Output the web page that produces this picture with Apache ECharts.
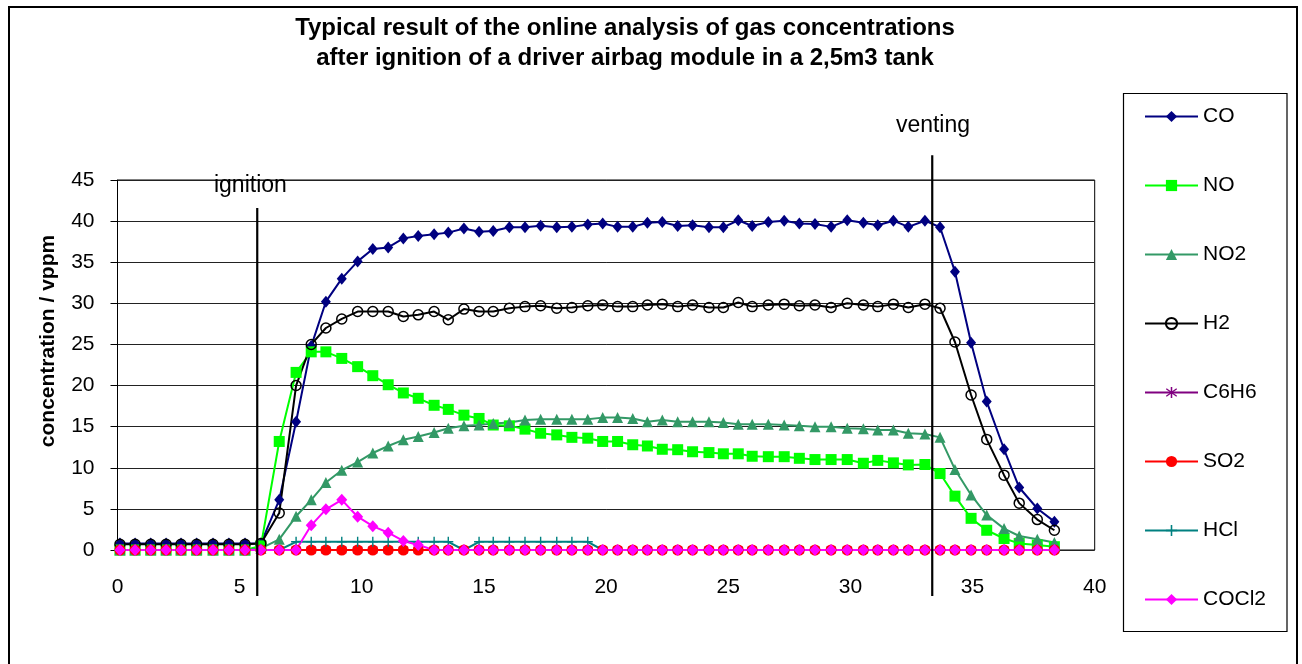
<!DOCTYPE html>
<html>
<head>
<meta charset="utf-8">
<script src="https://cdn.jsdelivr.net/npm/echarts@6/dist/echarts.min.js"></script>
<style>
html,body{margin:0;padding:0;background:#fff;}
#chart{width:1302px;height:664px;}
</style>
</head>
<body>
<div id="chart"></div>
<script>
// ---- data ----
const titleLines = ['Typical result of the online analysis of gas concentrations',
                    'after ignition of a driver airbag module in a 2,5m3 tank'];
const yAxisTitle = 'concentration / vppm';
const seriesNames = ['CO', 'NO', 'NO2', 'H2', 'C6H6', 'SO2', 'HCl', 'COCl2'];
const xTicks = [0, 5, 10, 15, 20, 25, 30, 35, 40];
const yTicks = [0, 5, 10, 15, 20, 25, 30, 35, 40, 45];
const eventNames = ['ignition', 'venting'];
const eventTimes = [5.72, 33.35];

const times = [0.10, 0.72, 1.36, 1.99, 2.60, 3.24, 3.91, 4.56, 5.22, 5.87,
  6.62, 7.31, 7.93, 8.53, 9.18, 9.83, 10.45, 11.08, 11.70, 12.31,
  12.96, 13.54, 14.18, 14.80, 15.38, 16.04, 16.68, 17.32, 17.98, 18.60,
  19.25, 19.86, 20.47, 21.09, 21.69, 22.30, 22.93, 23.54, 24.21, 24.80,
  25.41, 25.98, 26.64, 27.29, 27.91, 28.55, 29.21, 29.87, 30.53, 31.12,
  31.76, 32.37, 33.05, 33.67, 34.28, 34.94, 35.58, 36.29, 36.91, 37.65, 38.35];

const CO = [0.8, 0.8, 0.8, 0.8, 0.8, 0.8, 0.8, 0.8, 0.8, 0.8,
  6.1, 15.6, 24.8, 30.2, 33.0, 35.1, 36.6, 36.8, 37.9, 38.2,
  38.4, 38.6, 39.1, 38.7, 38.8, 39.25, 39.25, 39.45, 39.25, 39.3,
  39.6, 39.7, 39.3, 39.3, 39.8, 39.9, 39.4, 39.5, 39.25, 39.25,
  40.1, 39.4, 39.9, 40.05, 39.7, 39.65, 39.3, 40.1, 39.8, 39.5,
  40.05, 39.3, 40.05, 39.25, 33.85, 25.2, 18.05, 12.25, 7.6, 5.05, 3.45];

const NO = [0, 0, 0, 0, 0, 0, 0, 0, 0, 0.5,
  13.2, 21.6, 24.1, 24.1, 23.3, 22.3, 21.2, 20.1, 19.1, 18.45,
  17.6, 17.1, 16.4, 16.0, 15.2, 15.1, 14.7, 14.2, 14.0, 13.7,
  13.6, 13.2, 13.2, 12.8, 12.65, 12.25, 12.2, 11.95, 11.85, 11.7,
  11.7, 11.4, 11.35, 11.35, 11.15, 11.0, 11.0, 11.0, 10.55, 10.9,
  10.6, 10.35, 10.4, 9.3, 6.55, 3.85, 2.4, 1.4, 0.8, 0.6, 0.4];

const NO2 = [0, 0, 0, 0, 0, 0, 0, 0, 0, 0.2,
  1.3, 4.1, 6.1, 8.2, 9.7, 10.7, 11.8, 12.65, 13.4, 13.8,
  14.3, 14.8, 15.1, 15.2, 15.4, 15.5, 15.8, 15.9, 15.9, 15.9,
  15.9, 16.1, 16.1, 16.0, 15.6, 15.8, 15.6, 15.6, 15.6, 15.5,
  15.3, 15.3, 15.3, 15.2, 15.1, 15.0, 15.0, 14.8, 14.75, 14.6,
  14.6, 14.2, 14.1, 13.7, 9.8, 6.7, 4.25, 2.6, 1.7, 1.3, 0.9];

const H2 = [0.7, 0.7, 0.7, 0.7, 0.7, 0.7, 0.7, 0.7, 0.7, 0.8,
  4.5, 20.0, 25.0, 27.0, 28.1, 29.0, 29.0, 29.0, 28.4, 28.6,
  29.0, 28.0, 29.3, 29.0, 29.0, 29.4, 29.6, 29.7, 29.4, 29.5,
  29.7, 29.8, 29.6, 29.6, 29.8, 29.9, 29.6, 29.8, 29.5, 29.5,
  30.1, 29.6, 29.8, 29.9, 29.7, 29.8, 29.5, 30.0, 29.8, 29.6,
  29.9, 29.5, 29.9, 29.4, 25.3, 18.85, 13.45, 9.1, 5.7, 3.7, 2.4];

const C6H6 = [0, 0, 0, 0, 0, 0, 0, 0, 0, 0,
  0, 0, 0, 0, 0, 0, 0, 0, 0, 0,
  0, 0, 0, 0, 0, 0, 0, 0, 0, 0,
  0, 0, 0, 0, 0, 0, 0, 0, 0, 0,
  0, 0, 0, 0, 0, 0, 0, 0, 0, 0,
  0, 0, 0, 0, 0, 0, 0, 0, 0, 0, 0];

const SO2 = [0, 0, 0, 0, 0, 0, 0, 0, 0, 0,
  0, 0, 0, 0, 0, 0, 0, 0, 0, 0,
  0, 0, 0, 0, 0, 0, 0, 0, 0, 0,
  0, 0, 0, 0, 0, 0, 0, 0, 0, 0,
  0, 0, 0, 0, 0, 0, 0, 0, 0, 0,
  0, 0, 0, 0, 0, 0, 0, 0, 0, 0, 0];

const HCl = [0, 0, 0, 0, 0, 0, 0, 0, 0, 0,
  0, 1, 1, 1, 1, 1, 1, 1, 1, 1,
  1, 1, 0, 1, 1, 1, 1, 1, 1, 1,
  1, 0, 0, 0, 0, 0, 0, 0, 0, 0,
  0, 0, 0, 0, 0, 0, 0, 0, 0, 0,
  0, 0, 0, 0, 0, 0, 0, 0, 0, 0, 0];

const COCl2 = [0, 0, 0, 0, 0, 0, 0, 0, 0, 0,
  0, 0, 3.0, 4.95, 6.1, 4.05, 2.9, 2.1, 1.1, 0.6,
  0, 0, 0, 0, 0, 0, 0, 0, 0, 0,
  0, 0, 0, 0, 0, 0, 0, 0, 0, 0,
  0, 0, 0, 0, 0, 0, 0, 0, 0, 0,
  0, 0, 0, 0, 0, 0, 0, 0, 0, 0, 0];

// ---- styles ----
const FONT = "'Liberation Sans', Arial, sans-serif";
const asterisk = 'path://M4.4 0h1.2v10h-1.2z M0.6 2.2l0.6-1 8.2 6.6-0.6 1z M8.8 1.2l0.6 1-8.2 6.6-0.6-1z';
const plus = 'path://M4.3 0h1.4v10h-1.4z M0 4.3h10v1.4h-10z';
const styles = {
  CO:    {color: '#000080', symbol: 'diamond', size: [10, 12]},
  NO:    {color: '#00FF00', symbol: 'rect', size: 11},
  NO2:   {color: '#339966', symbol: 'triangle', size: 11},
  H2:    {color: '#000000', symbol: 'circle', size: 10, hollow: true},
  C6H6:  {color: '#800080', symbol: asterisk, size: 10},
  SO2:   {color: '#FF0000', symbol: 'circle', size: 11},
  HCl:   {color: '#008080', symbol: plus, size: 10},
  COCl2: {color: '#FF00FF', symbol: 'diamond', size: [11, 12]}
};
const values = {CO, NO, NO2, H2, C6H6, SO2, HCl, COCl2};

const series = seriesNames.map(name => {
  const st = styles[name];
  return {
    name: name,
    type: 'line',
    data: times.map((t, i) => [t, values[name][i]]),
    symbol: st.symbol,
    symbolSize: st.size,
    showAllSymbol: true,
    animation: false,
    lineStyle: {color: st.color, width: 2},
    itemStyle: st.hollow
      ? {color: 'rgba(0,0,0,0)', borderColor: st.color, borderWidth: 1.5}
      : {color: st.color, borderColor: st.color, borderWidth: 0},
    emphasis: {disabled: true}
  };
});

const chart = echarts.init(document.getElementById('chart'), null, {renderer: 'canvas'});

chart.setOption({
  backgroundColor: '#fff',
  animation: false,
  title: {
    text: titleLines.join('\n'),
    left: 620,
    textAlign: 'center',
    top: 8,
    textStyle: {fontFamily: FONT, fontSize: 24, fontWeight: 'bold', color: '#000', lineHeight: 30}
  },
  legend: {
    data: seriesNames,
    orient: 'vertical',
    left: 1144,
    top: 106,
    padding: 0,
    itemWidth: 53,
    itemHeight: 14,
    itemGap: 48,
    textStyle: {fontFamily: FONT, fontSize: 21, color: '#000'},
    selectedMode: false
  },
  grid: {
    left: 117.5, right: 207.3, top: 180, bottom: 114,
    show: true, borderColor: '#000', borderWidth: 1, backgroundColor: '#fff'
  },
  xAxis: {
    type: 'value', min: xTicks[0], max: xTicks[xTicks.length - 1], interval: 5,
    axisLine: {show: false},
    axisTick: {show: false},
    splitLine: {show: false},
    axisLabel: {fontFamily: FONT, fontSize: 21, color: '#000', margin: 27}
  },
  yAxis: {
    type: 'value', min: yTicks[0], max: yTicks[yTicks.length - 1], interval: 5,
    axisLine: {show: true, lineStyle: {color: '#000', width: 1}},
    axisTick: {show: true, inside: false, length: 7, lineStyle: {color: '#000'}},
    splitLine: {show: true, lineStyle: {color: '#222', width: 1}},
    axisLabel: {fontFamily: FONT, fontSize: 21, color: '#000', margin: 23}
  },
  series: series
});

// annotations placed through the chart's own scales
function px(x, y) { return chart.convertToPixel({gridIndex: 0}, [x, y]); }
const graphics = [];
// outer chart frame
graphics.push({type: 'rect', shape: {x: 9, y: 7, width: 1288, height: 670},
  style: {fill: 'none', stroke: '#000', lineWidth: 2}, silent: true, z: 0});
// legend frame
graphics.push({type: 'rect', shape: {x: 1123.5, y: 93.5, width: 163.5, height: 538},
  style: {fill: 'none', stroke: '#000', lineWidth: 1.2}, silent: true, z: 0});
// y axis title
graphics.push({type: 'text', x: 48, y: 341, rotation: Math.PI / 2,
  style: {text: yAxisTitle, font: 'bold 21px ' + FONT, fill: '#000',
          textAlign: 'center', textVerticalAlign: 'middle'}, silent: true});
const lineTops = [41.6, 48.0];
const labelY = [44.3, 51.6];
const labelDx = [-0.28, 0.03];
eventTimes.forEach((t, k) => {
  const top = px(t, lineTops[k]);
  const bot = px(t, -5.6);
  graphics.push({type: 'line', shape: {x1: top[0], y1: top[1], x2: bot[0], y2: bot[1]},
    style: {stroke: '#000', lineWidth: 2.2}, silent: true, z: 100});
  const lp = px(t + labelDx[k], labelY[k]);
  graphics.push({type: 'text', x: lp[0], y: lp[1],
    style: {text: eventNames[k], font: '23px ' + FONT, fill: '#000',
            textAlign: 'center', textVerticalAlign: 'middle'}, silent: true, z: 100});
});
chart.setOption({graphic: graphics});
</script>
</body>
</html>
